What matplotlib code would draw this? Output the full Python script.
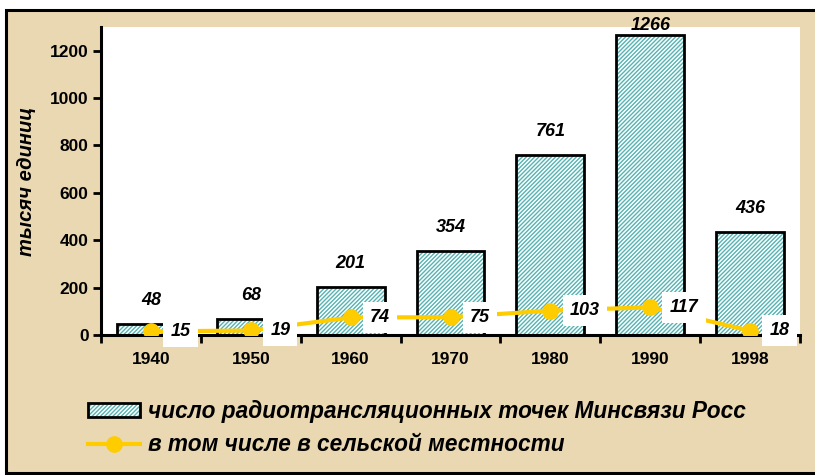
import matplotlib
matplotlib.use("Agg")
import matplotlib.pyplot as plt
from matplotlib.patches import Rectangle, Patch
from matplotlib.lines import Line2D

years = ["1940", "1950", "1960", "1970", "1980", "1990", "1998"]
total_points = [48, 68, 201, 354, 761, 1266, 436]
rural_points = [15, 19, 74, 75, 103, 117, 18]
y_ticks = [0, 200, 400, 600, 800, 1000, 1200]
bar_label = "число радиотрансляционных точек Минсвязи Росс"
line_label = "в том числе в сельской местности"
y_title = "тысяч единиц"

FONT = ["Liberation Sans", "DejaVu Sans"]
plt.rcParams["font.family"] = FONT
plt.rcParams["hatch.linewidth"] = 1.0

BG = "#EAD8B2"
HATCH = "#55B3B3"
YELLOW = "#FFCC00"

W, H = 815, 475
fig = plt.figure(figsize=(W / 100, H / 100), dpi=100)
fig.patch.set_facecolor("white")

# beige chart area with black frame (background axes)
bg = fig.add_axes([0, 0, 1, 1], zorder=-5)
bg.set_xlim(0, W)
bg.set_ylim(H, 0)
bg.axis("off")
bg.add_patch(Rectangle((6, 10), W + 20, 463, facecolor=BG, edgecolor="black",
                       linewidth=2.2))

ax = fig.add_axes([101 / W, 140 / H, 699 / W, 308 / H], zorder=1)
ax.set_facecolor("white")

x = list(range(len(years)))
ax.bar(x, total_points, width=0.68, color="white", edgecolor=HATCH,
       hatch="////////", linewidth=0, zorder=2)
ax.bar(x, total_points, width=0.68, fill=False, edgecolor="black",
       linewidth=2.0, zorder=3)

ax.plot(x, rural_points, color=YELLOW, linewidth=3.0, marker="o",
        markersize=11, markerfacecolor=YELLOW, markeredgecolor=YELLOW,
        zorder=4, solid_capstyle="butt")

ax.set_xlim(-0.5, len(years) - 0.5)
ax.set_ylim(0, 1300)

for xi, v in zip(x, total_points):
    off = 17 if v < 1150 else 7
    ax.annotate(str(v), (xi, v), xytext=(0, off), textcoords="offset points",
                ha="center", va="center", fontsize=13, fontweight="bold",
                fontstyle="italic", zorder=5, annotation_clip=False)

for xi, v in zip(x, rural_points):
    ax.annotate(str(v), (xi, v), xytext=(14, 0), textcoords="offset points",
                ha="left", va="center", fontsize=13, fontweight="bold",
                fontstyle="italic", zorder=6,
                bbox=dict(boxstyle="square,pad=0.4", facecolor="white",
                          edgecolor="none"))

ax.set_yticks(y_ticks)
ax.set_yticklabels([str(t) for t in y_ticks], fontsize=12.5, fontweight="bold")
ax.set_xticks([i - 0.5 for i in range(len(years) + 1)], minor=False)
ax.set_xticklabels([])
ax.set_xticks(x, minor=True)
ax.set_xticklabels(years, minor=True, fontsize=12.5, fontweight="bold")
ax.tick_params(axis="x", which="minor", length=0, pad=12)
ax.tick_params(axis="x", which="major", length=6, width=2, direction="out")
ax.tick_params(axis="y", length=6, width=2, direction="out", pad=3)

for s in ["top", "right"]:
    ax.spines[s].set_visible(False)
for s in ["left", "bottom"]:
    ax.spines[s].set_linewidth(2.2)

ax.text((27 - 101) / 699, 0.5, y_title, transform=ax.transAxes, rotation=90,
        ha="center", va="center", fontsize=14.5, fontweight="bold",
        fontstyle="italic")

hatch_h = Patch(facecolor="white", edgecolor=HATCH, hatch="////////", linewidth=0)
edge_h = Patch(facecolor="none", edgecolor="black", linewidth=2)
line_h = Line2D([0], [0], color=YELLOW, linewidth=3.0, marker="o",
                markersize=11, markerfacecolor=YELLOW, markeredgecolor=YELLOW)
fig.legend([(hatch_h, edge_h), line_h], [bar_label, line_label],
           loc="upper left", bbox_to_anchor=(88 / W, 1 - 400 / H),
           frameon=False, prop=dict(family=FONT, size=16.3, weight="bold",
                                    style="italic"),
           handlelength=2.3, handleheight=0.6, handletextpad=0.35,
           labelspacing=0.45, borderpad=0, borderaxespad=0)

fig.savefig("out.png", dpi=100, facecolor=fig.get_facecolor())
